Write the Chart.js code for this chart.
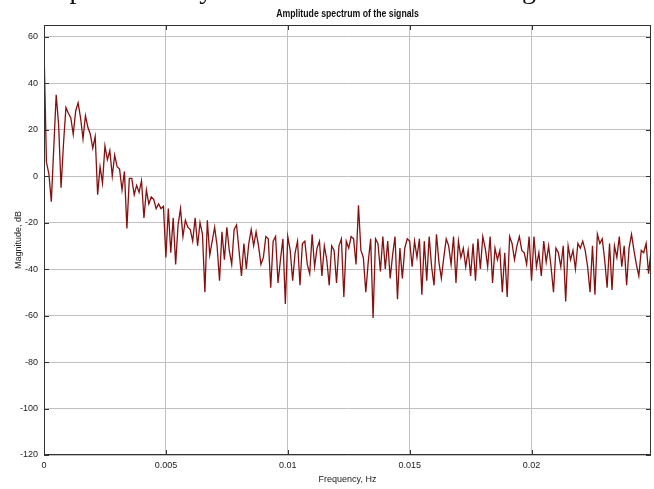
<!DOCTYPE html>
<html>
<head>
<meta charset="utf-8">
<script src="https://cdn.jsdelivr.net/npm/chart.js@4.4.1/dist/chart.umd.min.js"></script>
<style>
  html, body { margin: 0; padding: 0; background: #fff; }
  #wrap { position: relative; width: 654px; height: 489px; overflow: hidden; }
  #cut { position: absolute; left: 0; top: 0; width: 654px; height: 13px; overflow: hidden; }
  #cut span { position: absolute; left: 54px; top: -25px; font: 28px/28px 'Liberation Serif', 'Times New Roman', serif; white-space: nowrap; color: #111; }
  canvas { position: absolute; left: 0; top: 0; }
</style>
</head>
<body>
<div id="wrap">
  <canvas id="spectrumChart" width="654" height="489"></canvas>
  <div id="cut"><span>Spectral analysis of the received carrier signal</span></div>
</div>
<script>
// Spectrum bins (0.0001 Hz apart)
const FREQ_STEP = 0.0001;
const magnitudeDb = [
    55, 6, 1, -11, 12, 35, 22, -5, 14, 29.5,
    27, 25, 18, 28, 31.5, 25, 16, 26, 21, 18,
    12, 17, -8, 4, -3, 13, 7, 11, 0, 9,
    4, 3, -6, 2, -22.5, -1, -1, -8, -4, -7,
    -2, -18, -6, -12, -9, -10, -14, -12, -14, -13,
    -35, -14, -33, -18, -38, -21, -14, -26, -19, -22,
    -23, -28, -18, -30, -20, -25, -50, -19, -34, -28,
    -22, -30, -45, -24, -36, -22, -32, -38, -23, -21,
    -32, -43, -29, -40, -29, -23, -30, -24, -30, -38,
    -35, -26, -27, -48, -28, -26, -46, -36, -27, -55,
    -26, -32, -45, -33, -28, -47, -29, -28, -38, -42,
    -25, -39, -31, -28, -43, -30, -36, -47, -30, -32,
    -46, -30, -27, -52, -28, -31, -26, -27, -38, -12.6,
    -32, -35, -50, -37, -27, -61, -27, -29, -41, -26,
    -40, -28, -44, -34, -26, -53, -31, -44, -31, -27,
    -28, -39, -28, -35, -27, -51, -28, -45, -26, -39,
    -47, -25, -37, -44, -35, -27, -30, -38, -26, -46,
    -28, -35, -31, -39, -32, -43, -29, -45, -27, -40,
    -26, -31, -39, -26, -46, -31, -36, -32, -50, -33,
    -52, -26, -29, -36, -30, -26, -32, -33, -38, -26,
    -45, -26, -39, -33, -43, -28, -37, -30, -39, -50,
    -31, -33, -39, -30, -54, -30, -36, -32, -40, -29,
    -31, -28, -32, -39, -50, -30, -51, -25, -29, -27,
    -36, -48, -29, -49, -30, -35, -26, -39, -30, -47,
    -31, -25, -32, -38, -43, -32, -33, -29, -42, -32
];

const xTicks = [0, 0.005, 0.01, 0.015, 0.02];
const xTickLabels = ['0', '0.005', '0.01', '0.015', '0.02'];
const yTicks = [-120, -100, -80, -60, -40, -20, 0, 20, 40, 60];
const chartTitle = 'Amplitude spectrum of the signals';

const FONT = "'Liberation Sans', Arial, sans-serif";
Chart.defaults.font.family = FONT;
Chart.defaults.color = '#222';

// box round the axes, short inward tick marks and a narrow bold title, matlab style
const matlabFrame = {
    id: 'matlabFrame',
    afterDraw(chart) {
        const {ctx, chartArea: a, scales} = chart;
        ctx.save();
        ctx.strokeStyle = '#333';
        ctx.lineWidth = 1;
        ctx.beginPath();
        yTicks.forEach(v => {
            const y = Math.round(scales.y.getPixelForValue(v)) + 0.5;
            ctx.moveTo(a.left, y); ctx.lineTo(a.left + 5, y);
            ctx.moveTo(a.right, y); ctx.lineTo(a.right - 5, y);
        });
        xTicks.forEach(v => {
            const x = Math.round(scales.x.getPixelForValue(v)) + 0.5;
            ctx.moveTo(x, a.bottom); ctx.lineTo(x, a.bottom - 5);
            ctx.moveTo(x, a.top); ctx.lineTo(x, a.top + 5);
        });
        ctx.stroke();
        ctx.strokeRect(a.left + 0.5, a.top + 0.5, a.right - a.left - 1, a.bottom - a.top - 1);

        ctx.translate((a.left + a.right) / 2, 14);
        ctx.scale(0.87, 1);
        ctx.font = 'bold 10px ' + FONT;
        ctx.fillStyle = '#111';
        ctx.textAlign = 'center';
        ctx.textBaseline = 'middle';
        ctx.fillText(chartTitle, 0, 0);
        ctx.restore();
    }
};

const points = magnitudeDb.map((v, i) => ({x: i * FREQ_STEP, y: v}));

new Chart(document.getElementById('spectrumChart'), {
    type: 'line',
    data: {
        datasets: [{
            data: points,
            borderColor: '#861010',
            borderWidth: 1.3,
            pointRadius: 0,
            tension: 0
        }]
    },
    options: {
        responsive: false,
        animation: false,
        layout: {padding: {top: 25, right: 3}},
        plugins: {
            legend: {display: false},
            tooltip: {enabled: false},
            title: {display: false}
        },
        scales: {
            x: {
                type: 'linear',
                min: 0,
                max: 0.0249,
                afterBuildTicks: s => { s.ticks = xTicks.map(v => ({value: v})); },
                afterFit: s => { s.height = 34; },
                ticks: {
                    font: {size: 9},
                    padding: 5,
                    maxRotation: 0,
                    callback: (v, i) => xTickLabels[i]
                },
                grid: {color: '#c0c0c0', drawTicks: false},
                border: {display: false},
                title: {
                    display: true,
                    text: 'Frequency, Hz',
                    font: {size: 9},
                    padding: {bottom: 4, top: 0}
                }
            },
            y: {
                min: -120,
                max: 65,
                afterBuildTicks: s => { s.ticks = yTicks.map(v => ({value: v})); },
                afterFit: s => { s.width = 44; },
                ticks: {font: {size: 9}, padding: 6},
                grid: {color: '#c0c0c0', drawTicks: false},
                border: {display: false},
                title: {
                    display: true,
                    text: 'Magnitude, dB',
                    font: {size: 9},
                    padding: {top: 13, bottom: 0}
                }
            }
        }
    },
    plugins: [matlabFrame]
});
</script>
</body>
</html>
